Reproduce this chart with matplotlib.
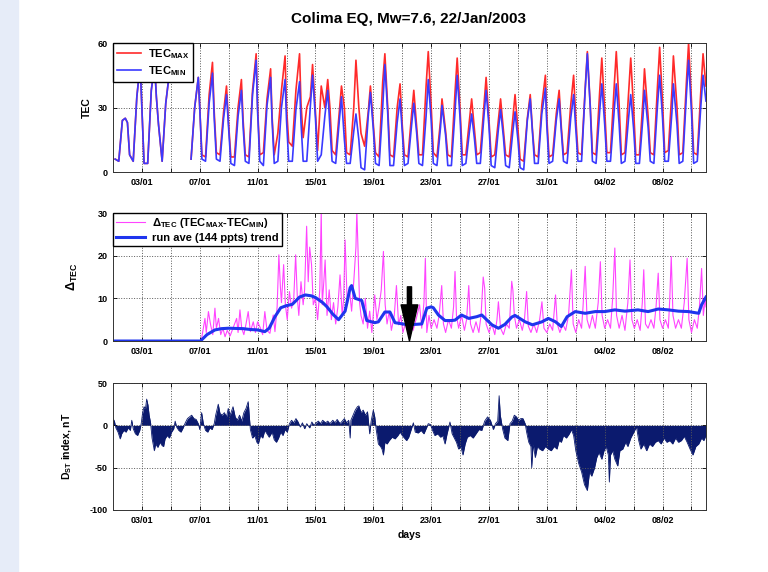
import numpy as np
import matplotlib
matplotlib.use('Agg')
import matplotlib.pyplot as plt
from matplotlib.patches import Rectangle

plt.rcParams['font.family'] = ['Liberation Sans', 'DejaVu Sans']
plt.rcParams['font.weight'] = 'bold'
plt.rcParams['axes.labelweight'] = 'bold'
plt.rcParams['axes.unicode_minus'] = False
plt.rcParams['mathtext.fontset'] = 'custom'
plt.rcParams['mathtext.rm'] = 'Liberation Sans:bold'
plt.rcParams['mathtext.it'] = 'Liberation Sans:bold'
plt.rcParams['mathtext.bf'] = 'Liberation Sans:bold'

# time axis: days since 01/01/2003 00:00 UT
tick_days = [2, 6, 10, 14, 18, 22, 26, 30, 34, 38]
tick_labels = ['03/01', '07/01', '11/01', '15/01', '19/01',
               '23/01', '27/01', '31/01', '04/02', '08/02']

# daily TEC cycle: peak time of each day, then values at
# k+0.15, k+0.40, k+0.65 (trough, trough, rise), the peak, and k+1.0 (fall)
nan = np.nan
peak_t = [0.85, 1.88, 2.88, 3.90, nan, 5.90, 6.88, 7.85, 8.88, 9.90,
          10.90, 11.90, 12.90, 13.80, 14.85, 15.80, 16.80, 17.80, 18.80, 19.85,
          20.80, 21.80, 22.75, 23.80, 24.80, 25.80, 26.80, 27.80, 28.85, 29.90,
          30.85, 31.85, 32.80, 33.80, 34.80, 35.80, 36.75, 37.80, 38.75, 39.80,
          40.80]
tec_max_rows = [
    [6, 5, 24, 25, 23], [8, 5, 35, 50, 30], [4, 4, 38, 50, 35], [22, 5, 32, 46, nan],
    [nan, nan, nan, nan, nan], [nan, 6, 30, 44, 30], [8, 7, 36, 51, 28], [9, 8, 28, 40, 22],
    [7, 7, 30, 43, 24], [8, 7, 38, 55, 30], [8, 9, 34, 48, 26], [8, 18, 38, 54, 30],
    [14, 12, 38, 55, 32], [16, 30, 35, 50, 28], [10, 40, 30, 43, 30], [10, 8, 28, 40, 30],
    [9, 8, 30, 52, 30], [18, 12, 28, 40, 22], [9, 7, 42, 55, 30], [8, 7, 30, 41, 22],
    [8, 7, 27, 38, 21], [8, 8, 40, 56, 31], [9, 7, 24, 34, 19], [8, 7, 37, 53, 29],
    [8, 8, 24, 34, 19], [8, 9, 31, 44, 24], [7, 8, 24, 34, 19], [8, 7, 25, 36, 20],
    [6, 5, 25, 36, 20], [8, 7, 31, 45, 25], [7, 8, 27, 38, 21], [8, 9, 31, 45, 25],
    [9, 8, 39, 56, 31], [9, 8, 37, 53, 29], [9, 9, 39, 56, 31], [8, 9, 37, 53, 29],
    [8, 8, 34, 48, 26], [9, 8, 40, 58, 32], [9, 10, 38, 54, 30], [8, 9, 42, 60, 33],
    [9, 8, 38, 55, 40]]
tec_min_rows = [
    [6, 5, 24, 25, 23], [8, 5, 35, 50, 30], [4, 4, 38, 50, 35], [22, 5, 32, 46, nan],
    [nan, nan, nan, nan, nan], [nan, 6, 30, 44, 30], [6, 5, 32, 46, 25], [6, 5, 25, 36, 20],
    [4, 3, 26, 38, 21], [5, 4, 36, 52, 28], [5, 3, 31, 44, 24], [4, 5, 30, 43, 24],
    [5, 5, 29, 42, 23], [5, 5, 31, 45, 25], [5, 8, 26, 38, 21], [5, 4, 24, 35, 15],
    [4, 4, 19, 27, 15], [2, 1, 26, 37, 20], [4, 3, 30, 50, 27], [3, 3, 23, 34, 19],
    [3, 4, 22, 32, 18], [4, 3, 26, 43, 24], [4, 3, 21, 31, 17], [3, 3, 28, 45, 25],
    [3, 4, 19, 27, 15], [4, 4, 26, 38, 21], [3, 2, 20, 29, 16], [3, 2, 19, 28, 15],
    [2, 1, 24, 34, 19], [4, 4, 27, 39, 21], [4, 5, 24, 34, 19], [5, 4, 25, 36, 20],
    [5, 5, 38, 55, 30], [5, 4, 28, 41, 22], [5, 5, 28, 41, 22], [4, 5, 25, 36, 20],
    [4, 4, 26, 38, 21], [5, 4, 31, 45, 25], [5, 5, 28, 41, 22], [4, 5, 36, 52, 28],
    [4, 5, 31, 45, 33]]

delta_t = [0, 6.1, 6.25, 6.36, 6.45, 6.6, 6.75, 6.9, 7.05, 7.15, 7.3, 7.45, 7.6, 7.75, 7.9,
           8.1, 8.3, 8.55, 8.65, 8.78, 8.9, 9.05, 9.2, 9.35, 9.5, 9.7, 9.85, 10.0, 10.2,
           10.35, 10.5, 10.65, 10.85, 11.08, 11.2, 11.35, 11.47, 11.58, 11.65, 11.8, 11.92,
           12.05, 12.2, 12.35, 12.5, 12.63, 12.75, 12.85, 13.0, 13.15, 13.25, 13.39, 13.5,
           13.6, 13.73, 13.85, 14.0, 14.15, 14.3, 14.4, 14.47, 14.58, 14.67, 14.8, 14.95,
           15.1, 15.25, 15.4, 15.55, 15.7, 15.85, 15.95, 16.05, 16.2, 16.35, 16.5, 16.65,
           16.8, 16.86, 16.93, 17.05, 17.15, 17.3, 17.45, 17.6, 17.75, 17.9, 18.1, 18.25,
           18.4, 18.55, 18.7, 18.82, 18.95, 19.1, 19.25, 19.45, 19.6, 19.75, 19.9, 20.05,
           20.25, 20.4, 20.6, 20.75, 20.95, 21.2, 21.35, 21.5, 21.6, 21.7, 21.85, 22.0,
           22.2, 22.4, 22.55, 22.73, 22.85, 23.0, 23.2, 23.4, 23.55, 23.65, 23.75, 23.9,
           24.1, 24.3, 24.45, 24.6, 24.72, 24.9, 25.1, 25.3, 25.45, 25.6, 25.7, 25.8,
           26.0, 26.2, 26.4, 26.55, 26.65, 26.8, 27.0, 27.2, 27.4, 27.57, 27.65, 27.75,
           27.9, 28.1, 28.3, 28.45, 28.6, 28.72, 28.9, 29.1, 29.3, 29.5, 29.66, 29.8,
           30.0, 30.2, 30.4, 30.6, 30.72, 30.9, 31.1, 31.3, 31.5, 31.7, 31.82, 32.0,
           32.2, 32.4, 32.5, 32.65, 32.78, 32.95, 33.15, 33.35, 33.55, 33.7, 33.82, 34.0,
           34.2, 34.4, 34.55, 34.7, 34.82, 35.0, 35.2, 35.4, 35.6, 35.75, 35.88, 36.05,
           36.25, 36.45, 36.6, 36.7, 36.82, 37.0, 37.2, 37.4, 37.55, 37.7, 37.82, 38.0,
           38.2, 38.4, 38.5, 38.6, 38.72, 38.9, 39.1, 39.3, 39.5, 39.7, 39.82, 40.0,
           40.2, 40.4, 40.55, 40.7, 40.82, 40.95, 41.0]
delta_v = [0, 0, 3, 5.3, 2, 6.9, 3.8, 1.5, 7.7, 3, 5.3, 1.5, 3, 1, 2.5,
           1.2, 3, 5.3, 2, 7.3, 3, 1.5, 4, 6.9, 2.2, 4.5, 2, 4.5, 3,
           1.5, 6.9, 2.5, 1.8, 6.1, 2.2, 8, 20.2, 12.4, 9, 17.9, 8.5,
           5, 11.6, 7.7, 10, 20.2, 10, 6, 13.9, 8.5, 12, 26.9, 13.9,
           22, 17.9, 8.5, 10, 5, 12, 30.5, 8.5, 14, 19, 6, 12,
           5, 9, 4, 8, 15.5, 6, 10, 23.7, 8.5, 12, 7, 14,
           22, 30.5, 23, 9, 6, 4, 10, 3, 7, 2, 10.8, 5,
           8, 12, 21, 8.5, 4, 7, 2.5, 6, 13, 3.8, 6, 2,
           4.5, 3, 6, 2.5, 5, 8.5, 3, 9, 19.4, 2, 6, 3,
           5, 3, 6, 13, 4, 2, 5, 3, 8, 16.3, 6, 3,
           6, 2.5, 5, 13, 4, 2, 4.5, 2, 6, 15, 12.4, 4,
           2, 4, 1.5, 5, 9.2, 3, 1.5, 4, 3, 14, 12, 6,
           3, 5, 2.5, 5, 11.6, 3.5, 2, 4, 2, 5, 9.2, 3,
           2, 4, 2.5, 10.8, 4, 2, 4, 2.5, 6, 16.7, 4, 2,
           5, 3, 8, 17.5, 5, 3, 6, 3, 9, 18.6, 6, 3,
           5, 3, 10, 21.8, 6, 3, 6, 2.5, 9, 19, 5, 3,
           5, 2.5, 9, 16.7, 4, 3, 5, 3, 8, 15.9, 5, 3,
           5, 3, 10, 19.8, 6, 3, 5, 3, 9, 19.4, 5, 2,
           5, 3, 8, 17, 6, 10, 8]

trend_t = [0, 6.05, 6.5, 7.05, 7.5, 8.0, 9.0, 9.5, 10.0, 10.5, 10.8, 11.2, 11.6, 12.0,
           12.4, 12.9, 13.3, 13.7, 14.0, 14.5, 14.8, 15.2, 15.6, 16.05, 16.4, 16.5, 16.75,
           17.2, 17.55, 18.1, 18.35, 18.8, 19.15, 19.5, 20.4, 21.35, 21.7, 22.0, 22.15,
           22.5, 22.96, 23.4, 23.65, 24.1, 24.6, 25.15, 25.5, 26.2, 26.65, 27.1, 27.57,
           27.8, 28.5, 29.0, 29.66, 30.1, 30.6, 31.0, 31.4, 31.96, 32.65, 33.35, 34.0,
           34.7, 35.4, 36.3, 37.0, 37.7, 38.4, 39.1, 39.8, 40.5, 40.7, 41.0]
trend_v = [0, 0, 1.5, 2.6, 2.9, 3.0, 2.9, 2.7, 2.6, 2.2, 3.0, 5.7, 7.8, 8.3,
           8.6, 10.3, 10.8, 10.6, 10.2, 9.0, 8.0, 6.3, 5.0, 7.0, 12.5, 13.0, 10.0,
           9.5, 4.8, 4.3, 4.5, 6.8, 6.8, 4.3, 3.8, 4.0, 7.7, 8.0, 7.8,
           6.1, 4.8, 4.8, 4.9, 6.1, 5.3, 5.7, 6.1, 3.8, 3.0, 3.9, 5.6,
           6.0, 4.5, 3.8, 4.5, 5.3, 4.5, 3.4, 5.7, 6.9, 6.5, 6.9, 6.9,
           7.3, 7.0, 7.3, 6.9, 7.5, 7.3, 7.0, 6.9, 6.5, 8.5, 10.3]

dst_t = [0.0, 0.1, 0.2, 0.35, 0.5, 0.6, 0.75, 0.9, 1.05, 1.2, 1.3, 1.4, 1.55, 1.7, 1.85,
         1.95, 2.05, 2.15, 2.25, 2.33, 2.42, 2.5, 2.6, 2.7, 2.86, 2.95, 3.1, 3.25, 3.4,
         3.5, 3.6, 3.75, 3.9, 4.05, 4.2, 4.3, 4.4, 4.55, 4.7, 4.85, 5.0, 5.15, 5.3,
         5.44, 5.6, 5.75, 5.9, 6.0, 6.13, 6.25, 6.4, 6.55, 6.7, 6.85, 7.0, 7.1, 7.28,
         7.4, 7.55, 7.7, 7.85, 7.97, 8.1, 8.3, 8.45, 8.6, 8.75, 8.9, 9.05, 9.2, 9.35,
         9.42, 9.5, 9.65, 9.8, 9.95, 10.05, 10.2, 10.35, 10.5, 10.65, 10.8, 11.0, 11.15,
         11.3, 11.45, 11.6, 11.75, 11.9, 12.05, 12.2, 12.35, 12.5, 12.65, 12.8, 12.95,
         13.1, 13.25, 13.4, 13.6, 13.75, 13.9, 14.05, 14.2, 14.35, 14.5, 14.7, 14.85,
         15.0, 15.2, 15.35, 15.5, 15.7, 15.85, 16.0, 16.15, 16.3, 16.4, 16.45, 16.6,
         16.75, 16.9, 17.0, 17.15, 17.3, 17.45, 17.6, 17.75, 17.85, 18.0, 18.1, 18.2,
         18.35, 18.5, 18.6, 18.7, 18.8, 18.95, 19.1, 19.3, 19.5, 19.7, 19.85, 20.0,
         20.15, 20.3, 20.45, 20.6, 20.77, 20.9, 21.1, 21.3, 21.5, 21.65, 21.8, 21.95,
         22.1, 22.25, 22.45, 22.65, 22.8, 22.96, 23.1, 23.3, 23.45, 23.6, 23.75, 23.9,
         24.05, 24.2, 24.35, 24.5, 24.7, 24.9, 25.1, 25.3, 25.5, 25.7, 25.9, 26.1,
         26.3, 26.45, 26.6, 26.7, 26.78, 26.95, 27.1, 27.3, 27.45, 27.6, 27.75, 27.9,
         28.05, 28.2, 28.35, 28.5, 28.6, 28.75, 28.9, 28.95, 29.05, 29.2, 29.35, 29.5,
         29.7, 29.9, 30.1, 30.3, 30.5, 30.7, 30.85, 31.0, 31.15, 31.35, 31.55, 31.7,
         31.85, 32.0, 32.2, 32.4, 32.6, 32.8, 32.95, 33.1, 33.3, 33.45, 33.6, 33.8,
         33.95, 34.1, 34.25, 34.32, 34.4, 34.55, 34.7, 34.9, 35.05, 35.25, 35.45, 35.6,
         35.8, 35.95, 36.1, 36.2, 36.35, 36.5, 36.7, 36.9, 37.1, 37.3, 37.5, 37.7,
         37.9, 38.1, 38.3, 38.5, 38.7, 38.9, 39.1, 39.3, 39.5, 39.7, 39.9, 40.1,
         40.3, 40.5, 40.7, 40.85, 41.0]
dst_v = [8, 5, -3, -8, -16, -10, -6, -8, -3, -6, 6, -4, -10, -12, -6,
         2, 15, 22, 20, 31, 24, 12, 3, -15, -30, -22, -26, -20, -24,
         -25, -16, -12, -15, -8, -4, 5, -2, -6, -8, -3, 3, 8, 10,
         12, 8, 7, 2, -5, 15, 2, -6, -8, -3, -5, 2, 12, 25,
         14, 12, 15, 10, 20, 12, 22, 10, 6, 12, 5, 15, 20, 28,
         12, -5, -15, -12, -20, -22, -12, -15, -6, -10, -14, -8, -17,
         -20, -15, -8, -12, -5, -8, 2, 6, 3, 8, 4, -2,
         3, -4, 2, -3, 4, 0, 3, 5, 2, 6, 3, 5,
         2, 6, 3, 7, 2, 5, 8, 3, 6, -15, 6, 12,
         18, 22, 23, 15, 18, 12, 16, -10, 5, 18, 10, -5,
         -22, -25, -28, -35, -20, -22, -18, -14, -16, -12, -8, -12,
         -15, -18, -14, -6, 3, -8, -9, -6, -10, -4, 2, 1,
         -6, -12, -10, -14, -12, -22, -10, 4, -10, -15, -20, -28,
         -25, -35, -22, -14, -12, -15, -10, -5, -6, 5, 10, 6,
         -5, 2, 5, 35, 12, -5, -15, -18, 2, 5, 12, 10,
         6, 8, 8, 2, -8, -20, -25, -50, -22, -38, -25, -28,
         -30, -25, -28, -30, -25, -28, -18, -20, -12, -15, -10, -5,
         -12, -30, -45, -55, -70, -77, -55, -60, -50, -38, -32, -40,
         -30, -25, -35, -67, -35, -30, -40, -48, -30, -28, -20, -25,
         -15, -10, -5, -2, -18, -28, -22, -30, -22, -25, -20, -18,
         -22, -15, -20, -18, -22, -15, -20, -18, -13, -20, -28, -35,
         -25, -22, -15, -18, -12]

quake_day = 20.5


def daily_curve(rows, peaks):
    t, v = [], []
    for k, (row, tp) in enumerate(zip(rows, peaks)):
        t += [k + 0.15, k + 0.40, k + 0.65, tp, k + 1.0]
        v += row
    return np.array(t, float), np.array(v, float)


def style_axis(ax, ylim, yticks):
    ax.set_xlim(0, 41)
    ax.set_ylim(*ylim)
    ax.set_yticks(yticks)
    ticks = np.arange(2, 41, 2)
    ax.set_xticks(ticks)
    lab = dict(zip(tick_days, tick_labels))
    ax.set_xticklabels([lab.get(int(d), '') for d in ticks])
    ax.grid(True, linestyle=':', color='0.35', linewidth=0.7)
    ax.tick_params(direction='in', top=True, right=True, length=3, width=0.6,
                   labelsize=6.5, pad=4)
    for s in ax.spines.values():
        s.set_linewidth(0.7)
        s.set_color('0.2')


tec_t, tec_max = daily_curve(tec_max_rows, peak_t)
_, tec_min = daily_curve(tec_min_rows, peak_t)

fig = plt.figure(figsize=(7.68, 5.72), dpi=100)
fig.patches.append(Rectangle((0, 0), 18 / 768, 1, transform=fig.transFigure,
                             color='#e6ecf8', zorder=0))

ax1 = fig.add_axes([0.1471, 0.6993, 0.7721, 0.2255])
ax2 = fig.add_axes([0.1471, 0.4038, 0.7721, 0.2238])
ax3 = fig.add_axes([0.1471, 0.1084, 0.7721, 0.2220])

fig.text(0.532, 0.966, 'Colima EQ, Mw=7.6, 22/Jan/2003', ha='center', va='center',
         fontsize=11, weight='bold')

# TEC max / min
ax1.plot(tec_t, tec_max, color='#ff2a2a', lw=1.2, label='TEC$_{MAX}$')
ax1.plot(tec_t, tec_min, color='#3a3aff', lw=1.2, label='TEC$_{MIN}$')
style_axis(ax1, (0, 60), [0, 30, 60])
ax1.set_ylabel('TEC', fontsize=7.5)
ax1.yaxis.set_label_coords(-0.036, 0.5)
ax1.legend(loc='upper left', bbox_to_anchor=(0, 1), borderaxespad=0, fancybox=False,
           edgecolor='black', framealpha=1, fontsize=8, handlelength=2.2,
           handletextpad=0.6, labelspacing=0.3, borderpad=0.35)

# TEC difference and running average
ax2.plot(delta_t, delta_v, color='#ff44ff', lw=0.8,
         label=r'$\Delta_{TEC}$ (TEC$_{MAX}$-TEC$_{MIN}$)')
ax2.plot(trend_t, trend_v, color='#1f35ee', lw=2.2, label='run ave (144 ppts) trend')
style_axis(ax2, (0, 30), [0, 10, 20, 30])
ax2.set_ylabel(r'$\Delta_{TEC}$', fontsize=9)
ax2.yaxis.set_label_coords(-0.055, 0.5)
ax2.annotate('', xy=(quake_day, 0), xytext=(quake_day, 12.7),
             arrowprops=dict(arrowstyle='simple,head_length=1.3,head_width=0.6,tail_width=0.15',
                             mutation_scale=20, fc='black', ec='black',
                             shrinkA=0, shrinkB=0), zorder=6)
ax2.legend(loc='upper left', bbox_to_anchor=(0, 1), borderaxespad=0, fancybox=False,
           edgecolor='black', framealpha=1, fontsize=8, handlelength=2.6,
           handletextpad=0.6, labelspacing=0.2, borderpad=0.3)

# Dst index
ax3.fill_between(dst_t, 0, dst_v, color='#0b1a6e', lw=0)
ax3.plot(dst_t, dst_v, color='#0b1a6e', lw=0.6)
style_axis(ax3, (-100, 50), [-100, -50, 0, 50])
ax3.set_ylabel('D$_{ST}$ index, nT', fontsize=7.5)
ax3.yaxis.set_label_coords(-0.066, 0.5)
ax3.set_xlabel('days', fontsize=7.5)
ax3.xaxis.set_label_coords(0.5, -0.16)

fig.savefig('out.png', dpi=100)
